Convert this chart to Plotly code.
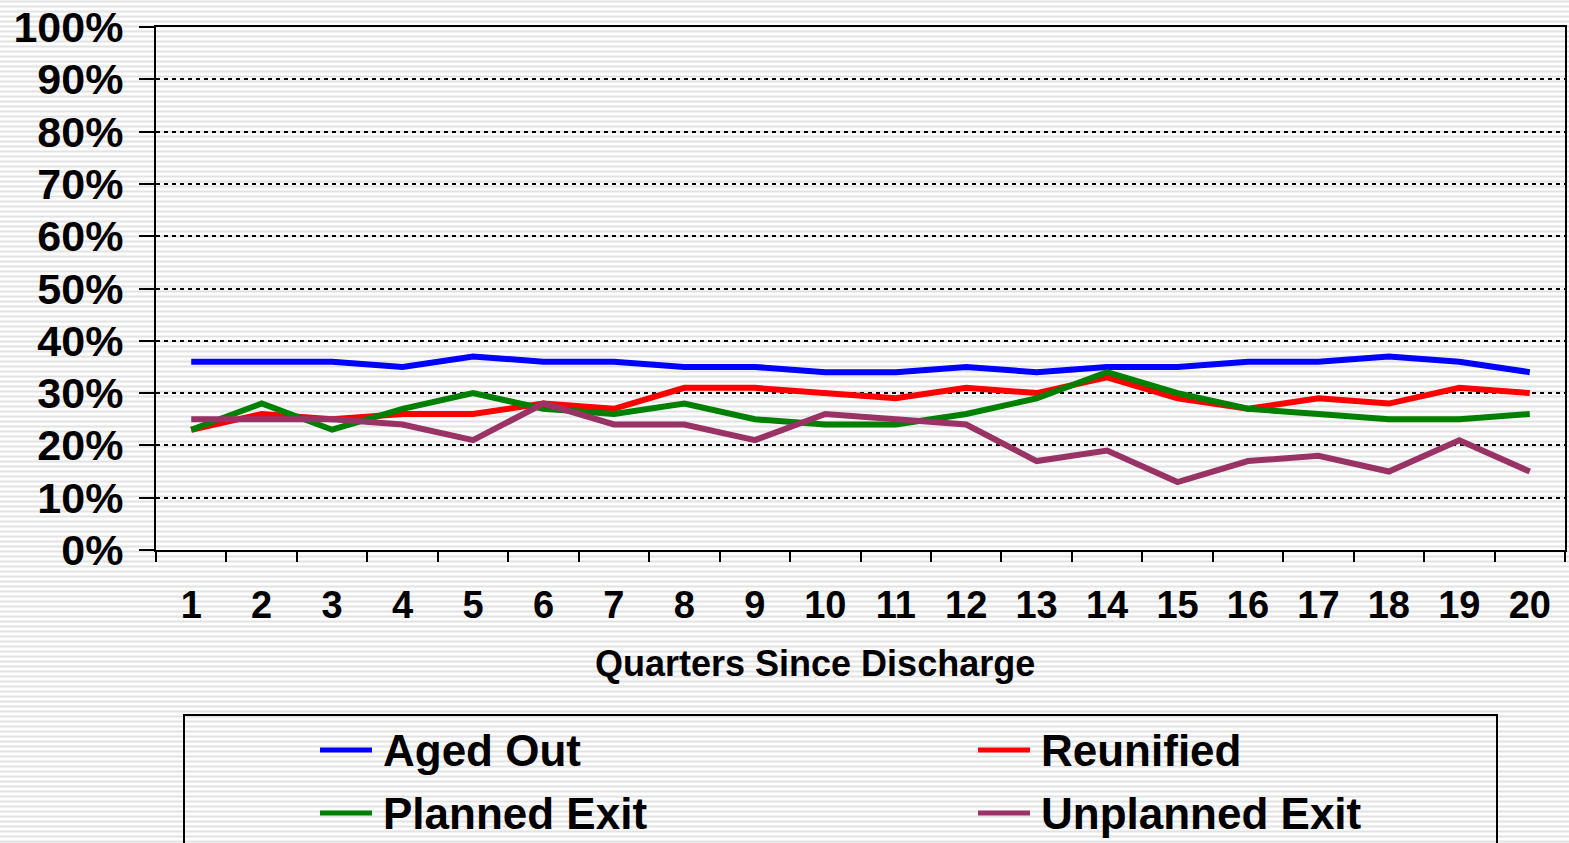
import plotly.graph_objects as go

quarters = [str(i) for i in range(1, 21)]
aged_out = [36, 36, 36, 35, 37, 36, 36, 35, 35, 34, 34, 35, 34, 35, 35, 36, 36, 37, 36, 34]
reunified = [23, 26, 25, 26, 26, 28, 27, 31, 31, 30, 29, 31, 30, 33, 29, 27, 29, 28, 31, 30]
planned_exit = [23, 28, 23, 27, 30, 27, 26, 28, 25, 24, 24, 26, 29, 34, 30, 27, 26, 25, 25, 26]
unplanned_exit = [25, 25, 25, 24, 21, 28, 24, 24, 21, 26, 25, 24, 17, 19, 13, 17, 18, 15, 21, 15]

series_names = ["Aged Out", "Reunified", "Planned Exit", "Unplanned Exit"]
series_values = [aged_out, reunified, planned_exit, unplanned_exit]
series_colors = ["#0000FF", "#FF0000", "#008000", "#993366"]

y_tick_vals = [i / 10 for i in range(11)]
x_title = "Quarters Since Discharge"

W, H = 1569, 843
L, R, T, B = 156, 1565, 27, 550  # plot area in pixels


def px(x):
    return (x - L) / (R - L)


def py(y):
    return (B - y) / (B - T)


FONT = "Liberation Sans, Arial, sans-serif"

fig = go.Figure()
for name, vals, col in zip(series_names, series_values, series_colors):
    fig.add_trace(go.Scatter(
        x=quarters, y=[v / 100 for v in vals], mode="lines", name=name,
        line=dict(color=col, width=6), showlegend=False, hoverinfo="skip",
    ))

shapes = []
# striped background
for yy in range(1, H + 5, 5):
    shapes.append(dict(type="line", xref="paper", yref="paper",
                       x0=px(-5), x1=px(W + 5), y0=py(yy + 0.5), y1=py(yy + 0.5),
                       line=dict(color="#e2e2e2", width=2), layer="below"))

# manual legend box
shapes.append(dict(type="rect", xref="paper", yref="paper",
                   x0=px(184), x1=px(1497), y0=py(715), y1=py(900),
                   line=dict(color="black", width=2), fillcolor="rgba(0,0,0,0)"))

legend_pos = [(320, 750), (978, 750), (320, 813), (978, 813)]
annotations = []
for (lx, ly), name, col in zip(legend_pos, series_names, series_colors):
    shapes.append(dict(type="line", xref="paper", yref="paper",
                       x0=px(lx), x1=px(lx + 52), y0=py(ly), y1=py(ly),
                       line=dict(color=col, width=5)))
    annotations.append(dict(xref="paper", yref="paper", x=px(lx + 61), y=py(ly),
                            xanchor="left", yanchor="middle", showarrow=False,
                            text=name, font=dict(family=FONT, size=44, color="black", weight="bold")))

annotations.append(dict(xref="paper", yref="paper", x=px(815), y=py(663),
                        xanchor="center", yanchor="middle", showarrow=False,
                        text=x_title, font=dict(family=FONT, size=36, color="black", weight="bold")))

fig.update_layout(
    width=W, height=H,
    margin=dict(l=L, r=W - R, t=T, b=H - B, autoexpand=False),
    paper_bgcolor="white", plot_bgcolor="rgba(0,0,0,0)",
    shapes=shapes, annotations=annotations,
    font=dict(family=FONT, color="black"),
    hovermode=False,
)
fig.update_xaxes(
    type="category", range=[-0.5, 19.5], tickson="boundaries",
    ticks="outside", ticklen=10, tickwidth=2, tickcolor="black",
    showline=True, linecolor="black", linewidth=2, mirror=True,
    showgrid=False, zeroline=False, ticklabelstandoff=20,
    ticklabeloverflow="allow",
    tickfont=dict(family=FONT, size=38, color="black", weight="bold"),
)
fig.update_yaxes(
    range=[0, 1], tickvals=y_tick_vals, tickformat=".0%",
    ticks="outside", ticklen=15, tickwidth=2, tickcolor="black",
    showline=True, linecolor="black", linewidth=2, mirror=True,
    showgrid=True, gridcolor="black", gridwidth=2, griddash="4px,4px",
    zeroline=False, ticklabelstandoff=7, ticklabeloverflow="allow",
    tickfont=dict(family=FONT, size=43, color="black", weight="bold"),
)

fig.write_html("out.html", config={"displayModeBar": False},
               post_script="document.body.style.margin='0';document.body.style.overflow='hidden';")
